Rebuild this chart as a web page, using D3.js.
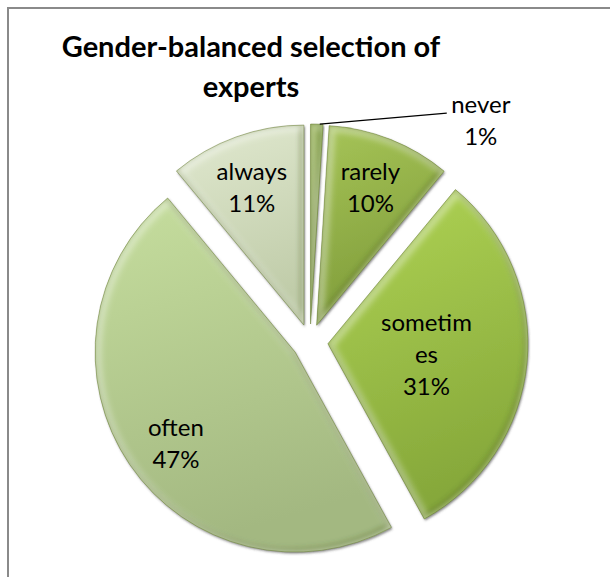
<!DOCTYPE html>
<html><head><meta charset="utf-8">
<script src="https://cdn.jsdelivr.net/npm/d3@7"></script>
<style>html,body{margin:0;padding:0;background:#fff;} svg{display:block;}</style>
</head><body>
<script>
// ---- data ----
const categories = ["never", "rarely", "sometimes", "often", "always"];
const values = [1, 10, 31, 47, 11];
const labelNames = [["never"], ["rarely"], ["sometim", "es"], ["often"], ["always"]];
const titleLines = ["Gender-balanced selection of", "experts"];
const topColors = ["#8aab42", "#a6c457", "#b0d455", "#c6de9e", "#e1e9d0"];
const bottomColors = ["#728f33", "#7f9c3a", "#86a83a", "#a3b881", "#c0cca9"];

// ---- layout ----
const W = 610, H = 577;
const cx = 310, cy = 342, R = 200, explode = 18;
const labelDist = [0, 138, 101, 155, 139];
const labelNudge = [[0, 0], [3, -1], [-2, 10], [9, 13], [-5, 2]];
const lineH = 32;
const font = "Lato, 'Open Sans', sans-serif";

const svg = d3.select("body").append("svg").attr("width", W).attr("height", H);
const defs = svg.append("defs");

svg.append("rect").attr("x", 8).attr("y", 8).attr("width", 700).attr("height", 700)
  .attr("fill", "#fff").attr("stroke", "#8a8a8a").attr("stroke-width", 2);

const sh = defs.append("filter").attr("id", "shadow").attr("x", "-10%").attr("y", "-10%").attr("width", "120%").attr("height", "120%");
sh.append("feDropShadow").attr("dx", 1).attr("dy", 1.5).attr("stdDeviation", 1.3)
  .attr("flood-color", "#444").attr("flood-opacity", 0.65);
const bl = defs.append("filter").attr("id", "blur");
bl.append("feGaussianBlur").attr("stdDeviation", 3);
const bl2 = defs.append("filter").attr("id", "blur2");
bl2.append("feGaussianBlur").attr("stdDeviation", 2);

// title
const title = svg.append("text").attr("font-family", font).attr("font-weight", "bold")
  .attr("font-size", 29).attr("fill", "#000").attr("text-anchor", "middle");
titleLines.forEach((t, i) => title.append("tspan").attr("x", 251).attr("y", 57 + i * 40).text(t));

const pie = d3.pie().sort(null).value(d => d).startAngle(0).endAngle(2 * Math.PI);
const arcs = pie(values);
const arc = d3.arc().innerRadius(0).outerRadius(R);

arcs.forEach((a, i) => {
  const g = defs.append("linearGradient").attr("id", "grad" + i)
    .attr("x1", 0).attr("y1", 0).attr("x2", 0.25).attr("y2", 1);
  g.append("stop").attr("offset", "0%").attr("stop-color", topColors[i]);
  g.append("stop").attr("offset", "100%").attr("stop-color", bottomColors[i]);
  defs.append("clipPath").attr("id", "clip" + i).append("path").attr("d", arc(a));
});

const slices = svg.append("g");
arcs.forEach((a, i) => {
  const mid = (a.startAngle + a.endAngle) / 2;
  const dx = explode * Math.sin(mid), dy = -explode * Math.cos(mid);
  const g = slices.append("g").attr("transform", `translate(${cx + dx},${cy + dy})`);
  g.append("path").attr("d", arc(a)).attr("fill", `url(#grad${i})`).attr("filter", "url(#shadow)");
  const cg = g.append("g").attr("clip-path", `url(#clip${i})`);
  cg.append("path").attr("d", arc(a)).attr("fill", "none")
    .attr("transform", "translate(-2,-2)")
    .attr("stroke", "#3d5010").attr("stroke-opacity", 0.3).attr("stroke-width", 6)
    .attr("filter", "url(#blur2)");
  cg.append("path").attr("d", arc(a)).attr("fill", "none")
    .attr("transform", "translate(2,2)")
    .attr("stroke", "#ffffff").attr("stroke-opacity", 0.4).attr("stroke-width", 8)
    .attr("filter", "url(#blur)");
  g.append("path").attr("d", arc(a)).attr("fill", "none")
    .attr("stroke", "#5d7326").attr("stroke-opacity", 0.45).attr("stroke-width", 1);

  const pct = values[i] + "%";
  const lines = labelNames[i].concat([pct]);
  let lx, ly;
  const ux = Math.sin(mid), uy = -Math.cos(mid);
  if (i === 0) {
    const sx = cx + dx + ux * (R - 2) + 3, sy = cy + dy + uy * (R - 2) - 2;
    const ex = sx + 127, ey = sy - 11;
    svg.append("line").attr("x1", sx).attr("y1", sy).attr("x2", ex).attr("y2", ey)
      .attr("stroke", "#000").attr("stroke-width", 1.3);
    lx = ex + 34; ly = ey + 15.5;
  } else {
    lx = cx + dx + ux * labelDist[i] + labelNudge[i][0];
    ly = cy + dy + uy * labelDist[i] + labelNudge[i][1];
  }
  const t = svg.append("text").attr("font-family", font).attr("font-size", 24)
    .attr("fill", "#000").attr("text-anchor", "middle");
  const n = lines.length;
  lines.forEach((s, k) => {
    t.append("tspan").attr("x", lx).attr("y", ly + (k - (n - 1) / 2) * lineH).text(s);
  });
});
</script>
</body></html>
